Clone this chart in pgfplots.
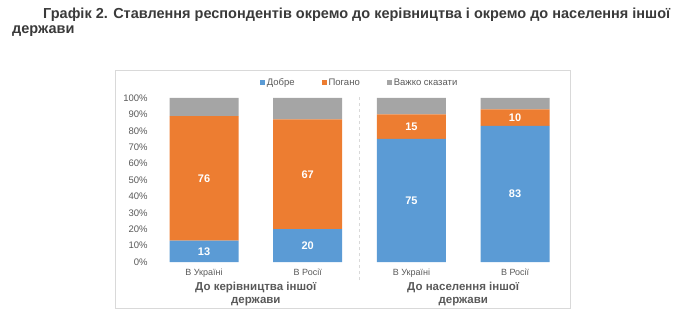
\documentclass[border=0pt]{standalone}
\usepackage{pgfplots}
\pgfplotsset{compat=1.18}
\usepackage{fontspec}
\setmainfont{Liberation Sans}
\definecolor{cblue}{HTML}{5B9BD5}
\definecolor{corange}{HTML}{ED7D31}
\definecolor{cgray}{HTML}{A5A5A5}
\definecolor{ctext}{HTML}{595959}
\definecolor{ctitle}{HTML}{3A3A3A}
\definecolor{cborder}{HTML}{D9D9D9}
\begin{document}
\begin{tikzpicture}[x=1pt,y=1pt]
\path[use as bounding box] (0,0) rectangle (690,324);
\draw[cborder, line width=0.8pt] (115,16) rectangle (570,254);
\node[anchor=base west, inner sep=0, font=\bfseries\fontsize{14.5}{16}\selectfont, text=ctitle] at (43,305) {Графік 2. Ставлення респондентів окремо до керівництва і окремо до населення іншої};
\node[anchor=base west, inner sep=0, font=\bfseries\fontsize{14.5}{16}\selectfont, text=ctitle] at (12,290) {держави};
\pgfplotsset{
  base/.style={
    scale only axis, width=414.8pt, height=164pt,
    at={(152.15pt,62pt)}, anchor=south west,
    xmin=-0.5, xmax=3.5, ymin=0, ymax=100,
    axis line style={draw=none}, clip=false,
  }
}
\begin{axis}[base,
  ybar stacked, bar width=69pt,
  xtick={0,1,2,3}, xticklabels={В Україні,В Росії,В Україні,В Росії},
  xticklabel style={font=\fontsize{9}{11}\selectfont, text=ctext, yshift=-3pt},
  ytick={0,10,...,100},
  yticklabels={0\%,10\%,20\%,30\%,40\%,50\%,60\%,70\%,80\%,90\%,100\%},
  yticklabel style={font=\fontsize{9.5}{11}\selectfont, text=ctext, xshift=-1pt},
  major tick length=0pt,
  /pgf/number format/assume math mode=true,
  legend style={at={(0.5,1)}, anchor=south, yshift=7pt, draw=none, fill=none,
    font=\fontsize{9.5}{11}\selectfont, text=ctext, legend columns=3,
    /tikz/every even column/.append style={column sep=25pt}},
  legend image code/.code={\fill[#1] (0pt,-2.5pt) rectangle (5pt,2.5pt);},
]
\addplot[fill=cblue, draw=none] coordinates {(0,13) (1,20) (2,75) (3,83)};
\addplot[fill=corange, draw=none] coordinates {(0,76) (1,67) (2,15) (3,10)};
\addplot[fill=cgray, draw=none] coordinates {(0,11) (1,13) (2,10) (3,7)};
\legend{Добре,Погано,Важко сказати}
\draw[cborder, dashed, line width=0.8pt] ([yshift=-18pt]axis cs:1.5,0) -- ([yshift=3pt]axis cs:1.5,100);
\node[font=\bfseries\fontsize{11.5}{13}\selectfont, text=ctext, align=center, anchor=north] at ([yshift=-17pt]axis cs:0.5,0) {До керівництва іншої\\держави};
\node[font=\bfseries\fontsize{11.5}{13}\selectfont, text=ctext, align=center, anchor=north] at ([yshift=-17pt]axis cs:2.5,0) {До населення іншої\\держави};
\end{axis}
\begin{axis}[base, hide axis,
  nodes near coords, point meta=explicit symbolic,
  every node near coord/.append style={anchor=center, font=\bfseries\fontsize{11}{13}\selectfont, text=white},
]
\addplot[only marks, mark=none] coordinates {(0,6.5)[13] (1,10)[20] (2,37.5)[75] (3,41.5)[83]};
\addplot[only marks, mark=none] coordinates {(0,51)[76] (1,53.5)[67] (2,82.5)[15] (3,88)[10]};
\end{axis}
\end{tikzpicture}
\end{document}
